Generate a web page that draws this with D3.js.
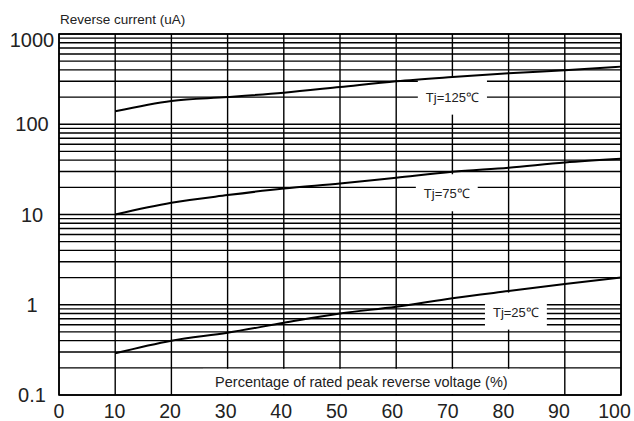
<!DOCTYPE html>
<html>
<head>
<meta charset="utf-8">
<script src="https://cdn.jsdelivr.net/npm/d3@7/dist/d3.min.js"></script>
<style>
  body { margin: 0; background: #fff; }
  svg { font-family: "Liberation Sans", Arial, sans-serif; }
</style>
</head>
<body>
<svg id="chart" width="634" height="421"></svg>
<script>
// percentage of rated peak reverse voltage
const voltage = [10, 20, 30, 40, 50, 60, 70, 80, 90, 100];
// reverse current (uA) per junction temperature
const tj125 = [139, 181, 200, 224, 259, 300, 334, 367, 397, 435];
const tj75 = [10, 13.5, 16.4, 19.4, 22, 25.5, 29.7, 33, 37.7, 41.5];
const tj25 = [0.29, 0.4, 0.49, 0.63, 0.8, 0.95, 1.18, 1.42, 1.7, 2.0];
const curves = [tj125, tj75, tj25];

const xTicks = [0, 10, 20, 30, 40, 50, 60, 70, 80, 90, 100];
const yTicks = [0.1, 1, 10, 100, 1000];
const yTickLabels = ['0.1', '1', '10', '100', '1000'];

// curve labels: text, position in data units
const curveLabels = [
    {text: 'Tj=125\u2103', x: 70, y: 200},
    {text: 'Tj=75\u2103', x: 69, y: 17},
    {text: 'Tj=25\u2103', x: 81.3, y: 0.83}
];
const xTitle = 'Percentage of rated peak reverse voltage (%)';
const yTitle = 'Reverse current (uA)';

const plot_left = 59, plot_right = 621, plot_top = 34, plot_bottom = 395;

const x = d3.scaleLinear().domain([0, 100]).range([plot_left, plot_right]);
const y = d3.scaleLog().domain([0.1, 1000]).range([plot_bottom, plot_top]);

const svg = d3.select('#chart');
const grid = svg.append('g');

// horizontal log grid: 1..9 per decade
const hLines = [];
for (let d = 0.1; d < 1000; d *= 10) {
    for (let k = 1; k < 10; k++) hLines.push(+(d * k).toPrecision(3));
}
hLines.push(1000);

grid.selectAll('line.h')
    .data(hLines)
    .enter().append('line')
    .attr('class', 'h')
    .attr('x1', plot_left).attr('x2', plot_right)
    .attr('y1', d => y(d)).attr('y2', d => y(d))
    .attr('stroke', '#000')
    .attr('stroke-width', 1.4);

grid.selectAll('line.v')
    .data(xTicks)
    .enter().append('line')
    .attr('class', 'v')
    .attr('x1', d => x(d)).attr('x2', d => x(d))
    .attr('y1', plot_top).attr('y2', plot_bottom)
    .attr('stroke', '#000')
    .attr('stroke-width', 1.4);

// white boxes behind the labels
const labelG = svg.append('g');
curveLabels.forEach(l => {
    const t = labelG.append('text')
        .text(l.text)
        .attr('x', x(l.x)).attr('y', y(l.y))
        .attr('dy', '0.35em')
        .attr('text-anchor', 'middle')
        .style('font-size', '13px')
        .attr('fill', '#222');
    const b = t.node().getBBox();
    labelG.insert('rect', 'text')
        .attr('x', b.x - 8).attr('y', b.y - 12)
        .attr('width', b.width + 16).attr('height', b.height + 22)
        .attr('fill', '#fff');
});

// x title sits in the lowest band
const xt = labelG.append('text')
    .text(xTitle)
    .attr('x', x(53.8)).attr('y', 387)
    .attr('text-anchor', 'middle')
    .style('font-size', '14.5px')
    .attr('fill', '#222');
const xb = xt.node().getBBox();
labelG.insert('rect', 'text')
    .attr('x', xb.x - 12).attr('y', y(0.2) + 1)
    .attr('width', xb.width + 24).attr('height', plot_bottom - y(0.2) - 2)
    .attr('fill', '#fff');

// frame
svg.append('rect')
    .attr('x', plot_left).attr('y', plot_top)
    .attr('width', plot_right - plot_left).attr('height', plot_bottom - plot_top)
    .attr('fill', 'none')
    .attr('stroke', '#000')
    .attr('stroke-width', 1.6);

const line = d3.line()
    .x((d, i) => x(voltage[i]))
    .y(d => y(d))
    .curve(d3.curveMonotoneX);

svg.selectAll('path.curve')
    .data(curves)
    .enter().append('path')
    .attr('class', 'curve')
    .attr('d', line)
    .attr('fill', 'none')
    .attr('stroke', '#000')
    .attr('stroke-width', 2);

// tick labels (labels drift a little left toward the right end, like the original)
svg.append('g').selectAll('text')
    .data(xTicks)
    .enter().append('text')
    .text(d => d)
    .attr('x', d => x(d) - d * 0.065).attr('y', 418)
    .attr('text-anchor', 'middle')
    .style('font-size', '19.5px')
    .attr('fill', '#222');

svg.append('g').selectAll('text')
    .data(yTicks)
    .enter().append('text')
    .text((d, i) => yTickLabels[i])
    .attr('x', 32)
    .attr('y', d => y(d) + (d === 1000 ? 6 : 0))
    .attr('dy', '0.35em')
    .attr('text-anchor', 'middle')
    .style('font-size', '20px')
    .attr('fill', '#222');

svg.append('text')
    .text(yTitle)
    .attr('x', 60).attr('y', 24)
    .style('font-size', '13.5px')
    .attr('fill', '#222');
</script>
</body>
</html>
